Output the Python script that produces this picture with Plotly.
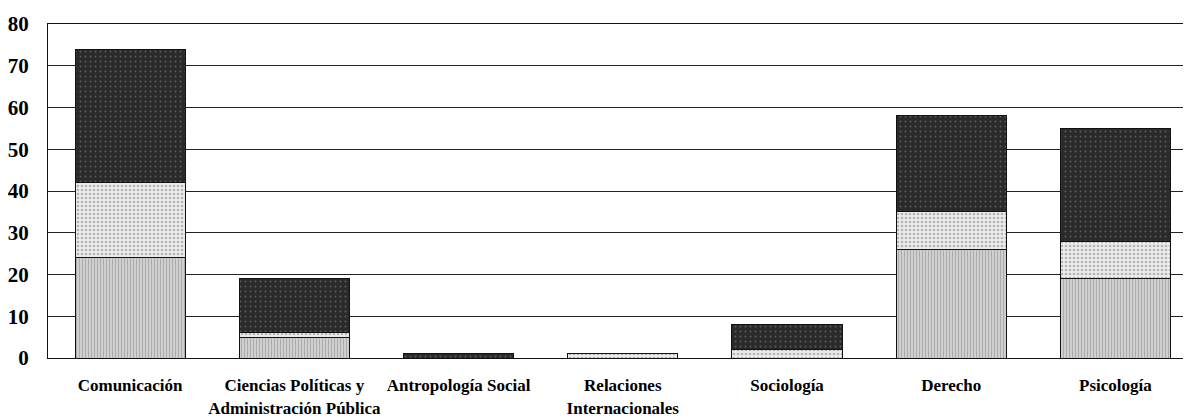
import plotly.graph_objects as go

categories = ["Comunicación", "Ciencias Políticas y<br>Administración Pública", "Antropología Social",
              "Relaciones<br>Internacionales", "Sociología", "Derecho", "Psicología"]
serie_1 = [24, 5, None, None, None, 26, 19]
serie_2 = [18, 1, None, 1, 2, 9, 9]
serie_3 = [32, 13, 1, None, 6, 23, 27]
y_ticks = [0, 10, 20, 30, 40, 50, 60, 70, 80]

font_family = "Liberation Serif"

fig = go.Figure()
fig.add_trace(go.Bar(
    x=categories, y=serie_1, name="Serie 1",
    marker=dict(color="#bdbdbd", line=dict(color="#111", width=1),
                pattern=dict(shape="|", bgcolor="#cfcfcf", fgcolor="#8a8a8a", size=3, solidity=0.35)),
))
fig.add_trace(go.Bar(
    x=categories, y=serie_2, name="Serie 2",
    marker=dict(color="#e0e0e0", line=dict(color="#111", width=1),
                pattern=dict(shape=".", bgcolor="#ececec", fgcolor="#7a7a7a", size=4, solidity=0.35)),
))
fig.add_trace(go.Bar(
    x=categories, y=serie_3, name="Serie 3",
    marker=dict(color="#2a2a2a", line=dict(color="#111", width=1),
                pattern=dict(shape=".", bgcolor="#2a2a2a", fgcolor="#8c8c8c", size=5, solidity=0.12)),
))

fig.update_layout(
    barmode="stack",
    bargap=0.33,
    width=1183, height=410,
    margin=dict(l=40, r=0, t=16, b=58),
    paper_bgcolor="white", plot_bgcolor="white",
    showlegend=False,
    font=dict(family=font_family, color="black"),
)
fig.update_xaxes(
    range=[-0.5, 6.46],
    showline=True, linecolor="#111", linewidth=1, mirror=True,
    showgrid=False,
    tickfont=dict(family=font_family, size=17, weight="bold"),
    ticklabelstandoff=12,
)
fig.update_yaxes(
    range=[0, 80], tickvals=y_ticks,
    showline=True, linecolor="#111", linewidth=1,
    showgrid=True, gridcolor="#222", gridwidth=1,
    zeroline=False,
    tickfont=dict(family=font_family, size=21, weight="bold"),
    ticklabelstandoff=14,
)

fig.write_html("out.html")
